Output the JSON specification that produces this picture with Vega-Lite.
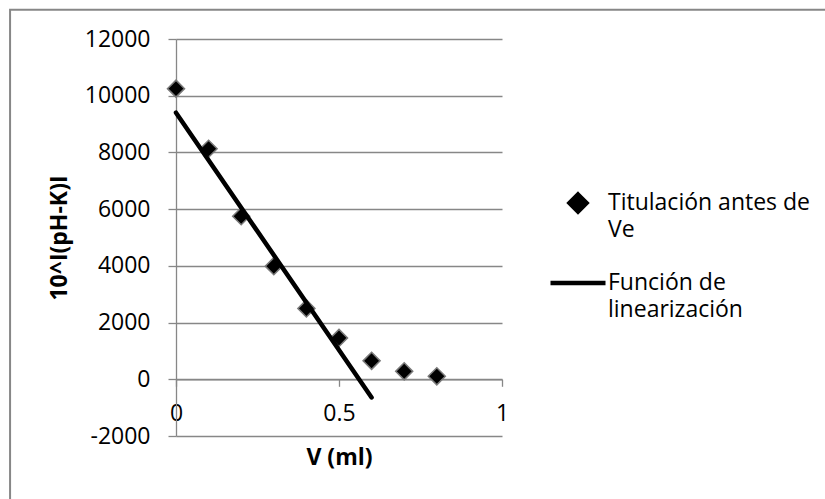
{
  "$schema": "https://vega.github.io/schema/vega-lite/v6.json",
  "width": 326,
  "height": 397,
  "autosize": {"type": "none"},
  "padding": {"left": 176, "top": 39, "right": 323, "bottom": 63},
  "background": "white",
  "config": {
    "view": {"stroke": null},
    "font": "Open Sans",
    "style": {"guide-label": {"lineHeight": 27}}
  },
  "datasets": {
    "titulacion": [
      {"V": 0.0, "valor": 10250, "serie": "Titulación antes de Ve"},
      {"V": 0.1, "valor": 8130, "serie": "Titulación antes de Ve"},
      {"V": 0.2, "valor": 5750, "serie": "Titulación antes de Ve"},
      {"V": 0.3, "valor": 3990, "serie": "Titulación antes de Ve"},
      {"V": 0.4, "valor": 2500, "serie": "Titulación antes de Ve"},
      {"V": 0.5, "valor": 1460, "serie": "Titulación antes de Ve"},
      {"V": 0.6, "valor": 650, "serie": "Titulación antes de Ve"},
      {"V": 0.7, "valor": 280, "serie": "Titulación antes de Ve"},
      {"V": 0.8, "valor": 105, "serie": "Titulación antes de Ve"}
    ],
    "linea": [
      {"V": 0.0, "valor": 9400, "serie": "Función de linearización"},
      {"V": 0.6, "valor": -640, "serie": "Función de linearización"}
    ]
  },
  "layer": [
    {
      "data": {"values": [{}]},
      "mark": {"type": "rect", "filled": false, "stroke": "#878787", "strokeWidth": 2, "clip": false},
      "encoding": {
        "x": {"datum": -0.509, "type": "quantitative", "scale": {"domain": [0, 1]}},
        "x2": {"datum": 2.2},
        "y": {"datum": 13030, "type": "quantitative", "scale": {"domain": [-2000, 12000]}},
        "y2": {"datum": -5000}
      }
    },
    {
      "data": {"name": "titulacion"},
      "mark": {"type": "point", "filled": true, "size": 3025, "stroke": "#7a7a7a", "strokeWidth": 1.5, "opacity": 1},
      "encoding": {
        "x": {
          "field": "V", "type": "quantitative",
          "scale": {"domain": [0, 1]},
          "axis": {
            "title": "V (ml)", "values": [0, 0.5, 1], "grid": false, "offset": -56.71,
            "domainColor": "#878787", "domainWidth": 1.3, "tickColor": "#878787", "tickWidth": 1.3, "tickSize": 7,
            "labelFont": "Open Sans", "labelFontSize": 23, "labelColor": "#000000", "labelPadding": 16,
            "labelFlush": false, "labelOverlap": false, "labelExpr": "toString(datum.value)",
            "titleFont": "Open Sans", "titleFontSize": 23, "titleFontWeight": "bold", "titleColor": "#000000", "titlePadding": 21
          }
        },
        "y": {
          "field": "valor", "type": "quantitative",
          "scale": {"domain": [-2000, 12000]},
          "axis": {
            "title": "10^I(pH-K)I", "values": [-2000, 0, 2000, 4000, 6000, 8000, 10000, 12000], "grid": true,
            "gridColor": "#878787", "gridWidth": 1.3,
            "domainColor": "#878787", "domainWidth": 1.3, "tickColor": "#878787", "tickWidth": 1.3, "tickSize": 8,
            "labelFont": "Open Sans", "labelFontSize": 23, "labelColor": "#000000", "labelPadding": 18,
            "labelFlush": false, "labelOverlap": false, "labelExpr": "toString(datum.value)",
            "titleFont": "Open Sans", "titleFontSize": 23, "titleFontWeight": "bold", "titleColor": "#000000", "titlePadding": 13
          }
        },
        "color": {
          "field": "serie", "type": "nominal",
          "scale": {"domain": ["Titulación antes de Ve", "Función de linearización"], "range": ["#000000", "#000000"]},
          "legend": {
            "title": null, "orient": "none", "legendX": 372, "legendY": 134, "padding": 0,
            "symbolSize": 3025, "symbolStrokeWidth": 4.5, "rowPadding": 11,
            "labelFont": "Open Sans", "labelFontSize": 23, "labelColor": "#000000", "labelOffset": 0, "labelLimit": 400,
            "labelExpr": "datum.label == 'Titulación antes de Ve' ? ['Titulación antes de', 'Ve'] : ['Función de', 'linearización']"
          }
        },
        "shape": {
          "field": "serie", "type": "nominal",
          "scale": {"domain": ["Titulación antes de Ve", "Función de linearización"], "range": ["M0,-0.31L0.31,0L0,0.31L-0.31,0Z", "stroke"]}
        }
      }
    },
    {
      "data": {"name": "linea"},
      "mark": {"type": "line", "strokeWidth": 4.5, "strokeCap": "round"},
      "encoding": {
        "x": {"field": "V", "type": "quantitative"},
        "y": {"field": "valor", "type": "quantitative"},
        "color": {"field": "serie", "type": "nominal"}
      }
    }
  ]
}
